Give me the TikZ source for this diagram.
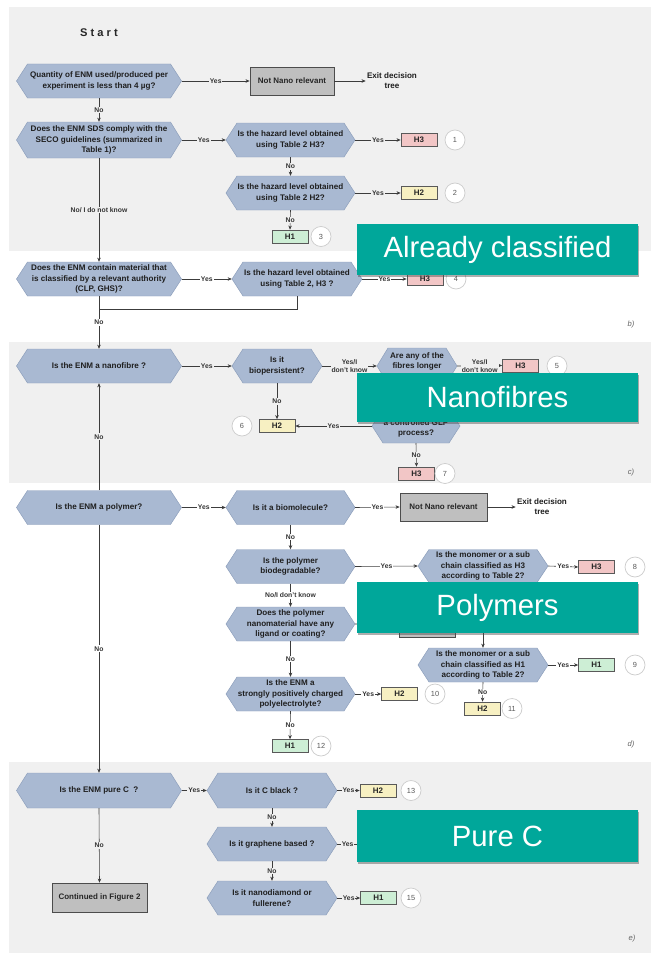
\documentclass[tikz,border=0pt]{standalone}
\usepackage{fontspec}
\setmainfont{Liberation Sans}
\usetikzlibrary{arrows.meta,shadows}
\definecolor{panelc}{HTML}{F0F0F0}
\definecolor{hexf}{HTML}{A9B9D2}
\definecolor{hexd}{HTML}{8C9EBB}
\definecolor{hthree}{HTML}{F2C6C6}
\definecolor{htwo}{HTML}{F7F0C2}
\definecolor{hone}{HTML}{CDEED5}
\definecolor{grayb}{HTML}{BFBFBF}
\definecolor{ovteal}{HTML}{00A79A}
\definecolor{lin}{HTML}{3C3C3C}
\tikzset{
  qtext/.style={align=center,inner sep=0pt,text=black!88,font=\fontsize{6.9}{9}\selectfont\bfseries},
  hb/.style={draw=black!65,line width=0.6pt,minimum width=36*0.03cm,minimum height=13*0.03cm,inner sep=0pt,font=\fontsize{6.8}{7}\selectfont\bfseries,text=black!85},
  gbox/.style={draw=black!70,line width=0.6pt,fill=grayb,inner sep=0pt,font=\fontsize{6.8}{8}\selectfont\bfseries,text=black!85},
  numc/.style={circle,draw=black!20,line width=0.6pt,fill=white,minimum size=20*0.03cm,inner sep=0pt,font=\fontsize{6.3}{7}\selectfont,text=black!65},
  exitt/.style={align=center,inner sep=1pt,font=\fontsize{6.9}{8.5}\selectfont\bfseries,text=black!88},
  arr/.style={draw=lin,line width=0.5pt,-{Stealth[length=3.5pt,width=3pt]}},
  plain/.style={draw=lin,line width=0.5pt},
  lab/.style={fill=panelc,inner sep=0.8pt,align=center,font=\fontsize{5.8}{6.8}\selectfont\bfseries,text=black!80},
  labw/.style={lab,fill=white},
  ovl/.style={fill=ovteal,text=white,inner sep=0pt,font=\fontsize{25}{28}\selectfont,
    drop shadow={shadow xshift=0.8pt,shadow yshift=-1.6pt,fill=black!70,opacity=0.45}},
  plab/.style={font=\fontsize{6.5}{7}\selectfont\itshape,text=black!60}
}
\newcommand\hexQ[6]{%
  \path[fill=hexf,draw=hexd,line width=0.4pt]
    ({#2-#4},#3) -- ({#2-#4+11},{#3-#5}) -- ({#2+#4-11},{#3-#5})
    -- ({#2+#4},#3) -- ({#2+#4-11},{#3+#5}) -- ({#2-#4+11},{#3+#5}) -- cycle;
  \node[qtext,minimum width=#4*0.06cm,minimum height=#5*0.06cm] (#1) at (#2,#3) {#6};}
\begin{document}
\begin{tikzpicture}[x=0.03cm,y=-0.03cm]
\useasboundingbox (0,0) rectangle (652,954);
\fill[white] (0,0) rectangle (652,954);
% panels
\fill[panelc] (9,7) rectangle (651,251);
\fill[panelc] (9,342) rectangle (651,483);
\fill[panelc] (9,762) rectangle (651,953);

% ---------- panel b ----------
\node[font=\fontsize{9.5}{11}\selectfont\bfseries,text=black!85] (start) at (99,33)
  {S\kern2.6pt t\kern2.6pt a\kern2.6pt r\kern2.6pt t};
\hexQ{q1}{99}{81}{82.5}{17}{Quantity of ENM used/produced per\\experiment is less than 4 µg?}
\node[gbox,minimum width=84*0.03cm,minimum height=28*0.03cm] (nn1) at (292,81) {Not Nano relevant};
\node[exitt] (ex1) at (392,81) {Exit decision\\tree};
\hexQ{q2}{99}{140}{82.5}{18}{Does the ENM SDS comply with the\\SECO guidelines (summarized in\\Table 1)?}
\hexQ{q3}{290.5}{140}{64.5}{17}{Is the hazard level obtained\\using Table 2 H3?}
\node[hb,fill=hthree] (b1) at (419,140) {H3};
\node[numc] (n1) at (455,140) {1};
\hexQ{q4}{290.5}{193}{64.5}{17}{Is the hazard level obtained\\using Table 2 H2?}
\node[hb,fill=htwo] (b2) at (419,193) {H2};
\node[numc] (n2) at (455,193) {2};
\node[hb,fill=hone] (b3) at (290,236.5) {H1};
\node[numc] (n3) at (321,236.5) {3};
\hexQ{q5}{99}{279}{82.5}{17}{Does the ENM contain material that\\is classified by a relevant authority\\(CLP, GHS)?}
\hexQ{q6}{297}{279}{65}{17}{Is the hazard level obtained\\using Table 2, H3 ?}
\node[hb,fill=hthree] (b4) at (425,279) {H3};
\node[numc] (n4) at (456,279) {4};
\coordinate (j1) at (99,309);
\node[plab] (pb) at (631,325) {b)};

% ---------- panel c ----------
\hexQ{q7}{99}{366}{82.5}{17}{Is the ENM a nanofibre ?}
\hexQ{q8}{277}{366}{45}{17}{Is it\\biopersistent?}
\hexQ{q9}{417}{366}{40}{18}{Are any of the\\fibres longer\\\mbox{}}
\node[hb,fill=hthree] (b5) at (520.5,365.5) {H3};
\node[numc] (n5) at (557,366) {5};
\node[hb,fill=htwo] (b6) at (277,426) {H2};
\node[numc] (n6) at (242,426) {6};
\hexQ{q10}{416}{426}{44}{17}{\mbox{}\\a controlled GLP\\process?}
\node[hb,fill=hthree] (b7) at (416.5,473.5) {H3};
\node[numc] (n7) at (445,473.5) {7};
\node[plab] (pc) at (631,473) {c)};

% ---------- panel d ----------
\hexQ{q11}{99}{507.5}{82.5}{17}{Is the ENM a polymer?}
\hexQ{q12}{290.5}{507.5}{64.5}{17}{Is it a biomolecule?}
\node[gbox,minimum width=87*0.03cm,minimum height=28*0.03cm] (nn2) at (443.5,507) {Not Nano relevant};
\node[exitt] (ex2) at (542,507) {Exit decision\\tree};
\hexQ{q13}{290.5}{566.5}{64.5}{17}{Is the polymer\\biodegradable?}
\hexQ{q14}{483}{566}{65}{16.5}{Is the monomer or a sub\\chain classified as H3\\according to Table 2?}
\node[hb,fill=hthree] (b8) at (596.5,567) {H3};
\node[numc] (n8) at (635,567) {8};
\hexQ{q15}{290.5}{624}{64.5}{17}{Does the polymer\\nanomaterial have any\\ligand or coating?}
\node[gbox,minimum width=56*0.03cm,minimum height=28*0.03cm] (hb9) at (427,623) {};
\hexQ{q16}{483}{665}{65}{17}{Is the monomer or a sub\\chain classified as H1\\according to Table 2?}
\node[hb,fill=hone] (b9) at (596.5,665) {H1};
\node[numc] (n9) at (635,665) {9};
\node[hb,fill=htwo] (b11) at (482.5,708.5) {H2};
\node[numc] (n11) at (512,708.5) {11};
\hexQ{q17}{290.5}{694}{64.5}{17}{Is the ENM a\\strongly positively charged\\polyelectrolyte?}
\node[hb,fill=htwo] (b10) at (399.5,694) {H2};
\node[numc] (n10) at (435,694) {10};
\node[hb,fill=hone] (b12) at (290,746) {H1};
\node[numc] (n12) at (321,746) {12};
\node[plab] (pd) at (631,745) {d)};

% ---------- panel e ----------
\hexQ{q18}{99}{790.5}{82.5}{17.5}{Is the ENM pure C\ \ ?}
\hexQ{q19}{272}{790.5}{65}{17.5}{Is it C black ?}
\node[hb,fill=htwo] (b13) at (378,790.5) {H2};
\node[numc] (n13) at (411,790.5) {13};
\hexQ{q20}{272}{844}{65}{17}{Is it graphene based ?}
\coordinate (hid14) at (362,844);
\hexQ{q21}{272}{898}{65}{17}{Is it nanodiamond or\\fullerene?}
\node[hb,fill=hone] (b15) at (378.5,898) {H1};
\node[numc] (n15) at (411,898) {15};
\node[gbox,minimum width=95*0.03cm,minimum height=29*0.03cm] (cont) at (99.5,897.5) {Continued in Figure 2};
\node[plab] (pe) at (632,939) {e)};

% ---------- connectors ----------
\draw[arr] (q1.east) -- node[lab]{Yes} (nn1.west);
\draw[arr] (nn1.east) -- (ex1.west);
\draw[arr] (q1.south) -- node[lab]{No} (q2.north);
\draw[arr] (q2.east) -- node[lab]{Yes} (q3.west);
\draw[arr] (q3.east) -- node[lab]{Yes} (b1.west);
\draw[arr] (q3.south) -- node[lab]{No} (q4.north);
\draw[arr] (q4.east) -- node[lab]{Yes} (b2.west);
\draw[arr] (q4.south) -- node[lab]{No} (b3.north);
\draw[arr] (q2.south) -- node[lab]{No/ I do not know} (q5.north);
\draw[arr] (q5.east) -- node[labw]{Yes} (q6.west);
\draw[arr] (q6.east) -- node[labw]{Yes} (b4.west);
\draw[plain] (q6.south) |- (j1);
\draw[arr] (q5.south) -- node[labw]{No} (q7.north);

\draw[arr] (q7.east) -- node[lab]{Yes} (q8.west);
\draw[arr] (q8.east) -- node[lab]{Yes/I\\don't know} (q9.west);
\draw[arr] (q9.east) -- node[lab]{Yes/I\\don't know} (b5.west);
\draw[arr] (q8.south) -- node[lab]{No} (b6.north);
\draw[arr] (q9.south) -- (q10.north);
\draw[arr] (q10.west) -- node[lab]{Yes} (b6.east);
\draw[arr] (q10.south) -- node[lab]{No} (b7.north);
\draw[arr] (q11.north) -- node[lab]{No} (q7.south);

\draw[arr] (q11.east) -- node[labw]{Yes} (q12.west);
\draw[arr] (q12.east) -- node[labw]{Yes} (nn2.west);
\draw[arr] (nn2.east) -- (ex2.west);
\draw[arr] (q12.south) -- node[labw]{No} (q13.north);
\draw[arr] (q13.east) -- node[labw]{Yes} (q14.west);
\draw[arr] (q14.east) -- node[labw]{Yes} (b8.west);
\draw[arr] (q13.south) -- node[labw]{No/I don't know} (q15.north);
\draw[arr] (q15.east) -- (hb9.west);
\draw[arr] (q14.south) -- (q16.north);
\draw[arr] (q16.east) -- node[labw]{Yes} (b9.west);
\draw[arr] (q16.south) -- node[labw]{No} (b11.north);
\draw[arr] (q15.south) -- node[labw]{No} (q17.north);
\draw[arr] (q17.east) -- node[labw]{Yes} (b10.west);
\draw[arr] (q17.south) -- node[labw]{No} (b12.north);
\draw[arr] (q11.south) -- node[labw]{No} (q18.north);

\draw[arr] (q18.east) -- node[lab]{Yes} (q19.west);
\draw[arr] (q19.east) -- node[lab]{Yes} (b13.west);
\draw[arr] (q19.south) -- node[lab]{No} (q20.north);
\draw[arr] (q20.east) -- node[lab,pos=0.42]{Yes} (hid14);
\draw[arr] (q20.south) -- node[lab]{No} (q21.north);
\draw[arr] (q21.east) -- node[lab]{Yes} (b15.west);
\draw[arr] (q18.south) -- node[lab]{No} (cont.north);

% ---------- overlays ----------
\node[ovl,minimum width=281*0.03cm,minimum height=51*0.03cm] (ov1) at (497.5,249.5) {Already classified};
\node[ovl,minimum width=281*0.03cm,minimum height=49*0.03cm] (ov2) at (497.5,397.5) {Nanofibres};
\node[ovl,minimum width=281*0.03cm,minimum height=51*0.03cm] (ov3) at (497.5,607.5) {Polymers};
\node[ovl,minimum width=281*0.03cm,minimum height=52*0.03cm] (ov4) at (497.5,836) {Pure C};
\end{tikzpicture}
\end{document}
